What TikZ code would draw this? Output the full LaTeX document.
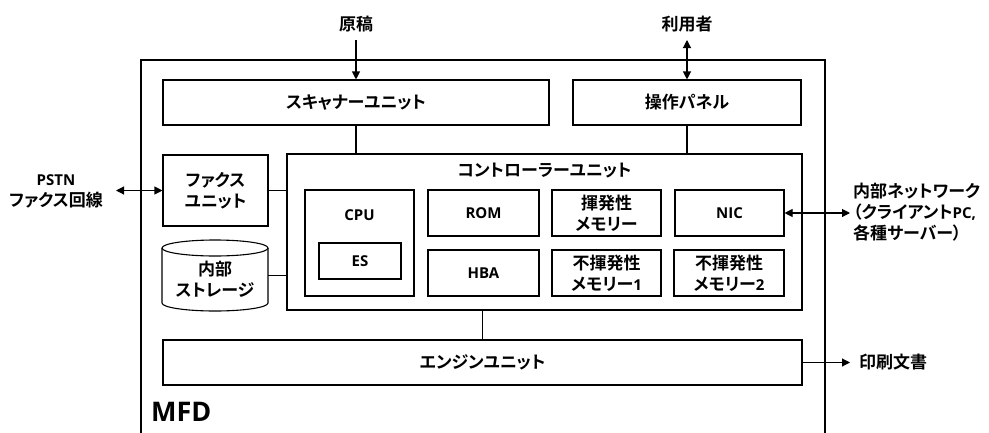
\documentclass[tikz,border=0pt]{standalone}
\usepackage{fontspec}
\setmainfont{Open Sans}
\newfontfamily\jp{Noto Sans CJK JP}[BoldFont={Noto Sans CJK JP Bold},RawFeature=+palt]
\newfontfamily\latf{Open Sans}
\newcommand\jfont{\jp\bfseries\fontsize{17}{21}\selectfont}
\newcommand\lfont{\latf\bfseries\fontsize{15}{21}\selectfont}
\newcommand\lt[1]{{\lfont #1}}
\usetikzlibrary{arrows.meta,calc}
\begin{document}
\begin{tikzpicture}[x=1pt,y=-1pt,
  ln/.style={line width=1.1pt},
  box/.style={ln, draw, fill=white, inner sep=0pt, font=\jfont, align=center},
  lbox/.style={box, font=\lfont},
  txt/.style={inner sep=0pt, font=\jfont, align=center},
  arr/.style={ln, -{Triangle[length=8pt,width=8pt]}},
  darr/.style={ln, {Triangle[length=8pt,width=8pt]}-{Triangle[length=8pt,width=8pt]}}]
\useasboundingbox (0,0) rectangle (989,432);
% MFD enclosure (open at the bottom)
\draw[ln] (141,440) -- (141,60) -- (825,60) -- (825,440);
\node[anchor=west, inner sep=0pt, font=\latf\bfseries\fontsize{27}{30}\selectfont] (mfd) at (151,412) {MFD};

% top row
\node[box, minimum width=386pt, minimum height=45pt] (scan) at (356,102.5) {スキャナーユニット};
\node[box, minimum width=228pt, minimum height=45pt] (panel) at (687,102.5) {操作パネル};

% controller
\node[box, minimum width=515pt, minimum height=156pt] (ctrl) at (544.5,232) {};
\node[txt] (ctrltitle) at (544.5,171) {コントローラーユニット};

\node[box, minimum width=109pt, minimum height=106pt] (cpu) at (359.5,243) {};
\node[txt, font=\lfont] (cputxt) at (359.5,215) {CPU};
\node[lbox, minimum width=82pt, minimum height=36pt] (es) at (360,261) {ES};
\node[lbox, minimum width=111pt, minimum height=46pt] (rom) at (483.5,213) {ROM};
\node[lbox, minimum width=111pt, minimum height=46pt] (hba) at (483.5,273) {HBA};
\node[box, minimum width=109pt, minimum height=46pt] (vol) at (606.5,213) {揮発性\\メモリー};
\node[box, minimum width=109pt, minimum height=46pt] (nv1) at (606.5,273) {不揮発性\\メモリー\lt{1}};
\node[lbox, minimum width=109pt, minimum height=46pt] (nic) at (729.5,213) {NIC};
\node[box, minimum width=110pt, minimum height=46pt] (nv2) at (729,273) {不揮発性\\メモリー\lt{2}};

% fax and storage
\node[box, minimum width=105pt, minimum height=71pt] (fax) at (215.5,190.5) {ファクス\\ユニット};
\fill[white] (162,248) rectangle (268,303);
\draw[ln, fill=white] (162,248) -- (162,303) arc[start angle=180, end angle=360, x radius=53pt, y radius=8pt] -- (268,248);
\draw[ln, fill=white] (215,248) ellipse [x radius=53pt, y radius=8pt];
\node[txt, minimum width=106pt, minimum height=71pt] (stor) at (215,279) {内部\\ストレージ};

% engine
\node[box, minimum width=639pt, minimum height=45pt] (eng) at (482.5,362.5) {エンジンユニット};

% internal connectors
\draw[ln] (scan.south) -- (scan.south |- ctrl.north);
\draw[ln] (panel.south) -- (panel.south |- ctrl.north);
\draw[ln] (fax.east) -- (fax.east -| ctrl.west);
\draw[ln] (268,275.5) -- (268,275.5 -| ctrl.west);
\draw[ln] (eng.north) -- (eng.north |- ctrl.south);

% external labels and arrows
\node[txt] (genko) at (356,24) {原稿};
\coordinate (genkoend) at (356,40);
\draw[arr] (genkoend) -- (scan.north);

\node[txt] (user) at (687,24) {利用者};
\coordinate (userend) at (687,40);
\draw[darr] (userend) -- (panel.north);

\node[txt] (pstn) at (56,191) {\lt{PSTN}\\ファクス回線};
\coordinate (pstnend) at (116,190.5);
\draw[darr] (pstnend) -- (fax.west);

\coordinate (netend) at (850,213);
\draw[darr] (nic.east) -- (netend);
\node[txt, anchor=west, align=left] (net) at (853,212) {内部ネットワーク\\（クライアント\lt{PC,}\\各種サーバー）};

\coordinate (printend) at (850,362.5);
\draw[arr] (eng.east) -- (printend);
\node[txt, anchor=west] (print) at (859,362.5) {印刷文書};
\end{tikzpicture}
\end{document}
